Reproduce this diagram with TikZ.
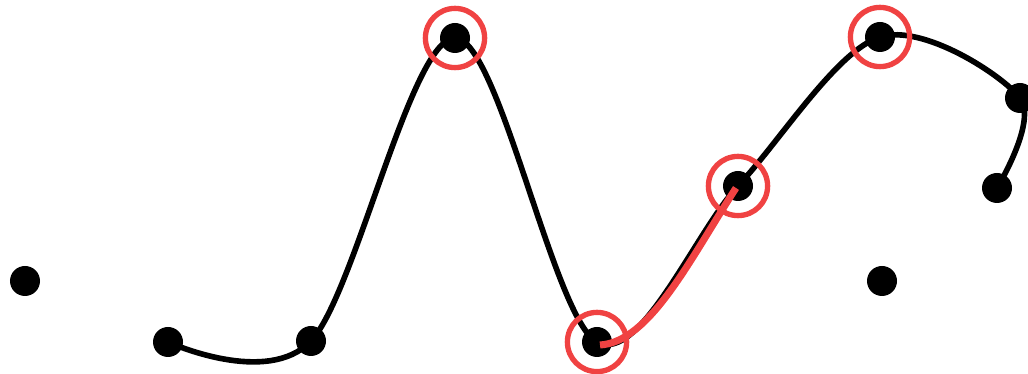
\documentclass[tikz,border=0pt]{standalone}
\usepackage{xcolor}
\usepackage{tikz}
\usetikzlibrary{calc}
\definecolor{markred}{RGB}{240,66,66}

\begin{document}
\begin{tikzpicture}[
    x=0.25mm, y=0.25mm,
    dot/.style={circle, fill=black, inner sep=0pt, minimum size=7.5mm},
    ring/.style={circle, draw=markred, line width=3.8pt, inner sep=0pt, minimum size=14.8mm},
    wave/.style={line width=4pt, black, smooth, tension=0.55},
    hilite/.style={line width=5pt, markred}
]
    \useasboundingbox (0,0) rectangle (1028,374);
    \clip (0,0) rectangle (1028,374);

    % sample points
    \node (p1) [dot] at (25,93) {};
    \node (p2) [dot] at (168,32) {};
    \node (p3) [dot] at (311,33) {};
    \node (p4) [dot] at (455,336) {};
    \node (p5) [dot] at (597,32) {};
    \node (p6) [dot] at (738,188) {};
    \node (p7) [dot] at (880,337) {};
    \node (p8) [dot] at (1020,276) {};
    \node (p9) [dot] at (997,186) {};
    \node (p10) [dot] at (882,93) {};

    % interpolating curve
    \draw [wave] plot coordinates {(p2.center) (p3.center) (p4.center) (p5.center) (p6.center) (p7.center) (p8.center) (p9.center)};

    % highlighted segment
    \draw [hilite] ($(p5.center)+(3,-3)$) .. controls (650,32) and (690,115) .. ($(p6.center)+(-2,-2)$);

    % markers
    \foreach \p in {p4,p5,p6,p7}
        \node [ring] at (\p) {};
\end{tikzpicture}
\end{document}
